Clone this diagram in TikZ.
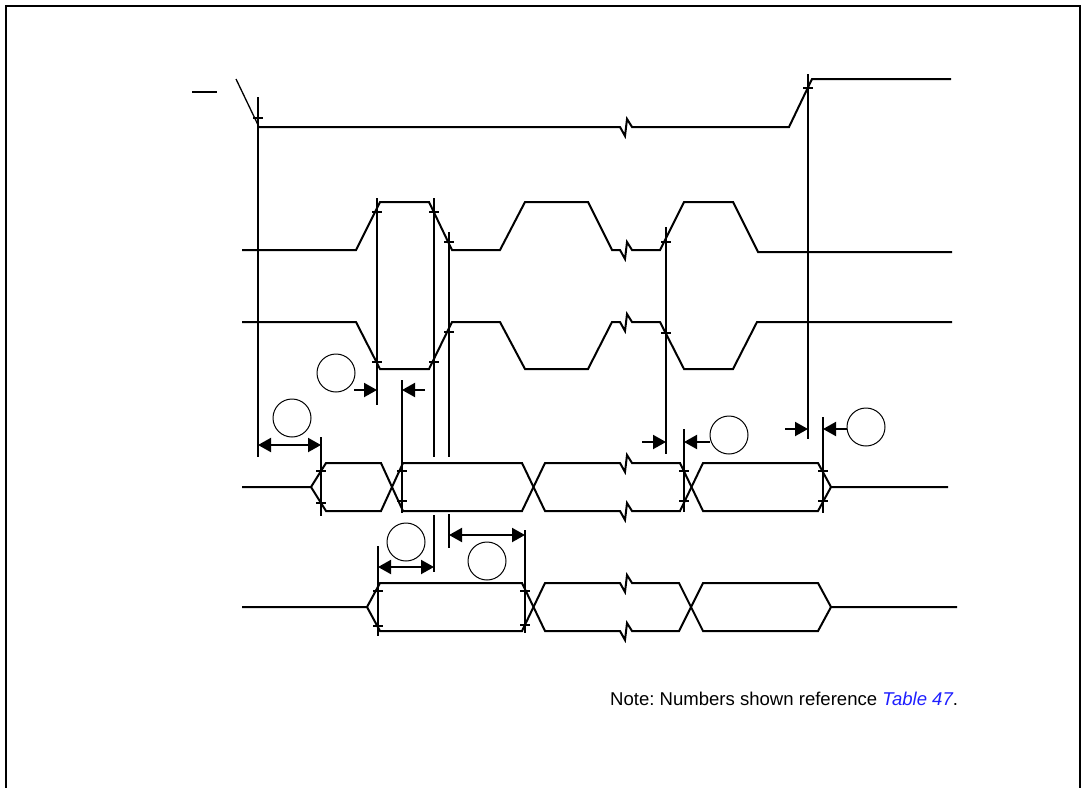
\documentclass[tikz,border=0pt]{standalone}
\usepackage{fontspec}
\setmainfont{Liberation Sans}
\usetikzlibrary{arrows.meta}
\definecolor{linkblue}{rgb}{0.12,0.12,1}
\frenchspacing
\tikzset{
  sig/.style={line width=2pt, line join=miter},
  thinsig/.style={line width=1.3pt},
  vline/.style={line width=2pt},
  tk/.style={line width=1.6pt},
  circ/.style={draw, circle, line width=1pt, minimum size=38pt, inner sep=0pt},
  rarr/.style={line width=2pt, -{Triangle[length=13pt,width=14pt]}},
  darr/.style={line width=2pt, {Triangle[length=13pt,width=14pt]}-{Triangle[length=13pt,width=14pt]}},
}
\begin{document}
\begin{tikzpicture}[x=1pt,y=-1pt]
\useasboundingbox (0,0) rectangle (1083,787);
% frame
\draw[line width=2pt] (6,800) -- (6,6) -- (1080,6) -- (1080,800);
% overline bar of signal name
\draw[line width=2pt] (192,92) -- (217,92);
% top chip-select style line
\draw[thinsig] (236,79) -- (259,127);
\draw[sig] (259,127) -- (620,127) -- ++(5,9) -- ++(2,-17) -- ++(5,8) -- (789,127) -- (812,79) -- (951,79);
% signal A (clock, idle low)
\draw[sig] (242,250) -- (356,250) -- (380,202) -- (429,202) -- (452,250) -- (500,250) -- (525,202)
  -- (588,202) -- (612,250) -- (620,250) -- ++(5,9) -- ++(2,-17) -- ++(5,8) -- (660,250)
  -- (684,202) -- (733,202) -- (758,252) -- (952,252);
% signal B (clock, idle high)
\draw[sig] (242,322) -- (356,322) -- (380,369) -- (429,369) -- (452,322) -- (500,322) -- (525,369)
  -- (588,369) -- (612,322) -- (620,322) -- ++(5,9) -- ++(2,-17) -- ++(5,8) -- (660,322)
  -- (684,369) -- (733,369) -- (757,322) -- (952,322);
% bus 1
\draw[sig] (242,487) -- (311,487) -- (326,463) -- (381,463) -- (403,511) -- (522,511) -- (545,463)
  -- (620,463) -- ++(5,9) -- ++(2,-17) -- ++(5,8) -- (680,463) -- (703,511) -- (818,511) -- (831,487) -- (948,487);
\draw[sig] (311,487) -- (326,511) -- (381,511) -- (403,463) -- (522,463) -- (545,511)
  -- (620,511) -- ++(5,9) -- ++(2,-17) -- ++(5,8) -- (680,511) -- (703,463) -- (818,463) -- (831,487);
% bus 2
\draw[sig] (242,607) -- (367,607) -- (380,583) -- (522,583) -- (545,631)
  -- (620,631) -- ++(5,9) -- ++(2,-17) -- ++(5,8) -- (679,631) -- (703,583) -- (818,583) -- (831,607) -- (957,607);
\draw[sig] (367,607) -- (380,631) -- (522,631) -- (545,583)
  -- (620,583) -- ++(5,9) -- ++(2,-17) -- ++(5,8) -- (679,583) -- (703,631) -- (818,631) -- (831,607);
% vertical reference lines
\draw[vline] (258,97) -- (258,457);
\draw[vline] (377,198) -- (377,405);
\draw[vline] (434,198) -- (434,457);
\draw[vline] (434,515) -- (434,572);
\draw[vline] (449,232) -- (449,457);
\draw[vline] (449,514) -- (449,548);
\draw[vline] (402,380) -- (402,513);
\draw[vline] (321,437) -- (321,516);
\draw[vline] (666,227) -- (666,454);
\draw[vline] (684,429) -- (684,512);
\draw[vline] (808,74) -- (808,439);
\draw[vline] (823,417) -- (823,513);
\draw[vline] (378,546) -- (378,636);
\draw[vline] (525,530) -- (525,633);
% ticks
\foreach \p in {(258,118),(808,88),(377,212),(434,212),(449,242),(377,362),(434,362),(449,332),
  (666,242),(666,333),(321,471),(321,503),(402,471),(402,501),(684,471),(684,501),(823,471),(823,501),
  (378,591),(378,626),(525,591),(525,625)}
  \draw[tk] \p ++(-5,0) -- ++(10,0);
% circles
\node[circ] (c1) at (336,373) {};
\node[circ] (c2) at (292,418) {};
\node[circ] (c3) at (729,435) {};
\node[circ] (c4) at (866,427) {};
\node[circ] (c5) at (406,542) {};
\node[circ] (c6) at (487,561) {};
% dimension arrows
\coordinate (a1s) at (354,390); \coordinate (a1e) at (377,390);
\coordinate (a2s) at (425,390); \coordinate (a2e) at (402,390);
\draw[rarr] (a1s) -- (a1e);
\draw[rarr] (a2s) -- (a2e);
\coordinate (a3s) at (258,445); \coordinate (a3e) at (321,445);
\draw[darr] (a3s) -- (a3e);
\coordinate (a4s) at (642,442); \coordinate (a4e) at (666,442);
\coordinate (a5e) at (684,442);
\draw[rarr] (a4s) -- (a4e);
\draw[rarr] (c3.west |- a5e) -- (a5e);
\coordinate (a6s) at (785,429); \coordinate (a6e) at (808,429);
\coordinate (a7e) at (823,429);
\draw[rarr] (a6s) -- (a6e);
\draw[rarr] (c4.west |- a7e) -- (a7e);
\coordinate (a8s) at (378,567); \coordinate (a8e) at (434,567);
\draw[darr] (a8s) -- (a8e);
\coordinate (a9s) at (449,535); \coordinate (a9e) at (525,535);
\draw[darr] (a9s) -- (a9e);
% note
\node[anchor=base west, inner sep=0pt, font=\fontsize{18.55}{21}\selectfont] (note) at (610,705)
  {Note: Numbers shown reference \textcolor{linkblue}{\itshape Table 47}.};
\end{tikzpicture}
\end{document}
